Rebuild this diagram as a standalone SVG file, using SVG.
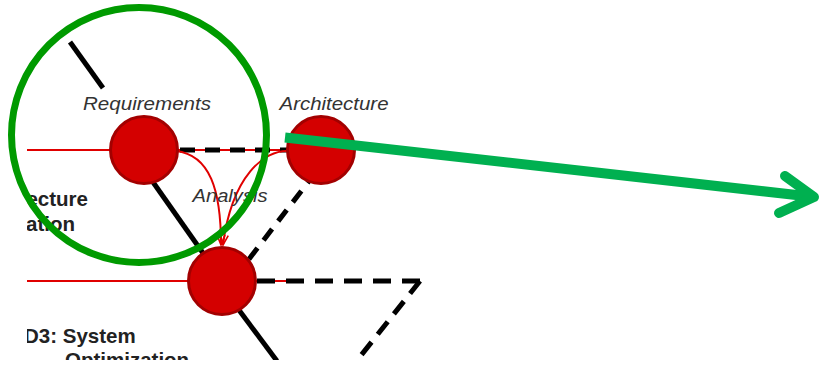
<svg xmlns="http://www.w3.org/2000/svg" width="822" height="365" viewBox="0 0 822 365">
<defs>
<style>
.node{fill:#d40000;stroke:#a30000;stroke-width:3}
.red{fill:none;stroke:#e00000;stroke-width:2}
.solid{fill:none;stroke:#000;stroke-width:5}
.dash{fill:none;stroke:#000;stroke-width:5}
.lbl{font-family:"Liberation Sans",Arial,sans-serif;font-style:italic;font-size:19px;fill:#333}
.bold{font-family:"Liberation Sans",Arial,sans-serif;font-weight:bold;font-size:20.5px;fill:#222}
</style>
<marker id="arr" viewBox="0 0 12 10" refX="11" refY="5" markerWidth="12" markerHeight="10" markerUnits="userSpaceOnUse" orient="auto">
<path d="M1,1 L11,5 L1,9" fill="none" stroke="#e00000" stroke-width="1.6"/>
</marker>
<clipPath id="clip"><rect x="27" y="40" width="400" height="320"/></clipPath>
</defs>
<rect width="822" height="365" fill="#fff"/>
<g clip-path="url(#clip)">
<g id="connectors">
<line class="red" x1="27" y1="150" x2="144" y2="150"/>
<line class="red" x1="27" y1="281" x2="222" y2="281"/>
<line class="red" x1="144" y1="150" x2="321" y2="150"/>
<line class="red" x1="222" y1="281" x2="300" y2="281"/>
<line class="solid" x1="70" y1="42" x2="103" y2="88"/>
<line class="solid" x1="148" y1="175" x2="205" y2="256"/>
<line class="solid" x1="236" y1="306" x2="277" y2="361"/>
<path class="dash" d="M180,150 H287" stroke-dasharray="15 10"/>
<path class="dash" d="M316,172 L246,263" stroke-dasharray="14 10"/>
<path class="dash" d="M420,281 H240" stroke-dasharray="18 11"/>
<path class="dash" d="M420,281 L355,363" stroke-dasharray="16 10"/>
<path class="red" d="M176,151 C210,155 221,190 221,245" marker-end="url(#arr)"/>
<path class="red" d="M288,151 C265,150 232,175 223,245" marker-end="url(#arr)"/>
</g>
<g id="node-requirements">
<circle class="node" cx="144" cy="150" r="33.5"/>
<text class="lbl" x="147" y="110" text-anchor="middle" textLength="128" lengthAdjust="spacingAndGlyphs">Requirements</text>
</g>
<g id="node-architecture">
<circle class="node" cx="321" cy="150" r="33.5"/>
<text class="lbl" x="334" y="110" text-anchor="middle" textLength="109" lengthAdjust="spacingAndGlyphs">Architecture</text>
</g>
<g id="node-system">
<circle class="node" cx="222" cy="281" r="33.5"/>
</g>
<text class="lbl" x="230" y="202" text-anchor="middle" textLength="75" lengthAdjust="spacingAndGlyphs">Analysis</text>
<text class="bold" x="88" y="206" text-anchor="end">ecture</text>
<text class="bold" x="75" y="231" text-anchor="end">ation</text>
<text class="bold" x="24" y="343">D3: System</text>
<text class="bold" x="65" y="367">Optimization</text>
</g>
<g id="highlight">
<circle cx="139" cy="135" r="127.5" fill="none" stroke="#009a00" stroke-width="7"/>
<path d="M285,137.5 L814,197" fill="none" stroke="#00b050" stroke-width="10"/>
<path d="M785,176 L814,197 L779,213" fill="none" stroke="#00b050" stroke-width="10" stroke-linecap="round" stroke-linejoin="round"/>
</g>
</svg>
